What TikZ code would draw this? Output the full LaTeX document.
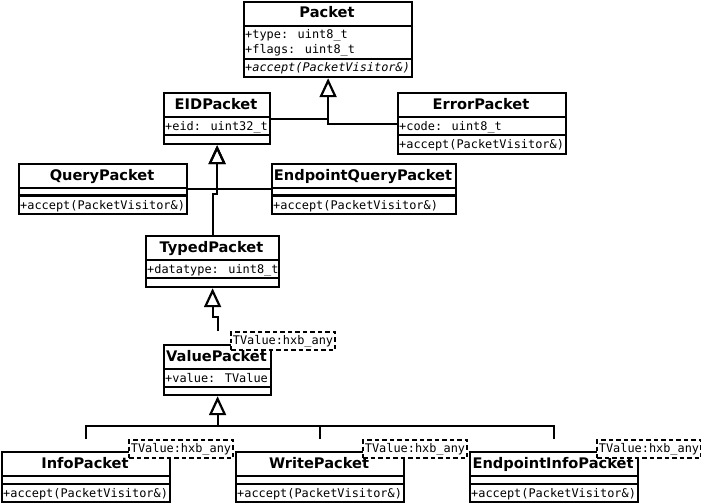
\documentclass[tikz,border=0pt]{standalone}
\usepackage{fontspec}
\newfontfamily\titlef{DejaVu Sans}
\newfontfamily\monof{DejaVu Sans Mono}
\usetikzlibrary{arrows.meta}
\newcommand\clsep[2]{\draw[ln] ([yshift=-#2pt]#1.north west) -- ([yshift=-#2pt]#1.north east);}
\begin{document}
\begin{tikzpicture}[x=1pt,y=-1pt,
  cls/.style={draw, line width=2.2pt, anchor=north west, inner sep=0pt, fill=white},
  ln/.style={line width=2.2pt},
  title/.style={anchor=base, inner sep=0pt, font=\titlef\bfseries\fontsize{14.6}{17}\selectfont},
  attr/.style={anchor=base west, inner sep=0pt, font=\monof\fontsize{11.9}{14}\selectfont},
  oper/.style={attr, font=\monof\itshape\fontsize{11.9}{14}\selectfont},
  tmpl/.style={draw, line width=2pt, dash pattern=on 4.5pt off 3pt, fill=white, anchor=north west,
    minimum width=104pt, minimum height=18pt, inner sep=0pt, font=\monof\fontsize{11.9}{14}\selectfont},
  inh/.style={line width=2.2pt, -{Triangle[open, length=19pt, width=17pt, line width=2.2pt]}},
]
\useasboundingbox (0,0) rectangle (701,503);

% Packet
\node[cls, minimum width=168pt, minimum height=75pt] (pk) at (243,1) {};
\clsep{pk}{25}\clsep{pk}{58}
\node[title] (pkt) at (327,18) {Packet};
\node[attr] (pka1) at (245,38) {+type: uint8\_t};
\node[attr] (pka2) at (245,53) {+flags: uint8\_t};
\node[oper] (pko1) at (245,71) {+accept(PacketVisitor\&)};

% EIDPacket
\node[cls, minimum width=106pt, minimum height=51pt] (eid) at (163,92) {};
\clsep{eid}{25}\clsep{eid}{43}
\node[title] (eidt) at (216,109) {EIDPacket};
\node[attr] (eida1) at (165,130) {+eid: uint32\_t};

% ErrorPacket
\node[cls, minimum width=168pt, minimum height=61pt] (err) at (397,92) {};
\clsep{err}{25}\clsep{err}{43}
\node[title] (errt) at (481,109) {ErrorPacket};
\node[attr] (erra1) at (399,130) {+code: uint8\_t};
\node[attr] (erro1) at (399,148) {+accept(PacketVisitor\&)};

% QueryPacket
\node[cls, minimum width=168pt, minimum height=50pt] (qp) at (18,163) {};
\clsep{qp}{25}\clsep{qp}{32.5}
\node[title] (qpt) at (102,180) {QueryPacket};
\node[attr] (qpo1) at (20,209) {+accept(PacketVisitor\&)};

% EndpointQueryPacket
\node[cls, minimum width=184pt, minimum height=50pt] (eqp) at (271,163) {};
\clsep{eqp}{25}\clsep{eqp}{32.5}
\node[title] (eqpt) at (363,180) {EndpointQueryPacket};
\node[attr] (eqpo1) at (273,209) {+accept(PacketVisitor\&)};

% TypedPacket
\node[cls, minimum width=133pt, minimum height=51pt] (tp) at (145,235) {};
\clsep{tp}{25}\clsep{tp}{43}
\node[title] (tpt) at (211.5,252) {TypedPacket};
\node[attr] (tpa1) at (147,273) {+datatype: uint8\_t};

% ValuePacket
\node[cls, minimum width=107pt, minimum height=50pt] (vp) at (163,344) {};
\clsep{vp}{25}\clsep{vp}{43}
\node[title] (vpt1) at (216.5,361) {ValuePacket};
\node[attr] (vpa1) at (165,382) {+value: TValue};

% InfoPacket
\node[cls, minimum width=168pt, minimum height=50pt] (ip) at (1,451) {};
\clsep{ip}{25}\clsep{ip}{33}
\node[title] (ipt1) at (85,468) {InfoPacket};
\node[attr] (ipo1) at (3,497) {+accept(PacketVisitor\&)};

% WritePacket
\node[cls, minimum width=168pt, minimum height=50pt] (wp) at (235,451) {};
\clsep{wp}{25}\clsep{wp}{33}
\node[title] (wpt1) at (319,468) {WritePacket};
\node[attr] (wpo1) at (237,497) {+accept(PacketVisitor\&)};

% EndpointInfoPacket
\node[cls, minimum width=168pt, minimum height=50pt] (epi) at (469,451) {};
\clsep{epi}{25}\clsep{epi}{33}
\node[title] (epit1) at (553,468) {EndpointInfoPacket};
\node[attr] (epio1) at (471,497) {+accept(PacketVisitor\&)};

% template boxes
\node[tmpl] (vpt) at (230,331) {TValue:hxb\_any};
\node[tmpl] (ipt) at (128,439) {TValue:hxb\_any};
\node[tmpl] (wpt) at (362,439) {TValue:hxb\_any};
\node[tmpl] (epit) at (596,439) {TValue:hxb\_any};

% connectors
\draw[inh] (err.west) -| (pk.south);
\draw[ln] (eid.east) -- (eid.east -| pk.south);
\draw[inh] (qp.east) -| (eid.south);
\draw[ln] (eqp.west) -- (eqp.west -| eid.south);
\draw[inh] (tp.north) -- ++(0,-41) -| (eid.south);
\draw[inh] (vp.north |- vpt.north) -- ++(0,-14) -| (tp.south);
\coordinate (bus) at ([yshift=-30pt]vp.south);
\draw[inh] (ip.north |- ipt.north) |- (bus) -- (vp.south);
\draw[ln] (wp.north |- wpt.north) -- (wp.north |- bus);
\draw[ln] (epi.north |- epit.north) |- (bus);
\end{tikzpicture}
\end{document}
